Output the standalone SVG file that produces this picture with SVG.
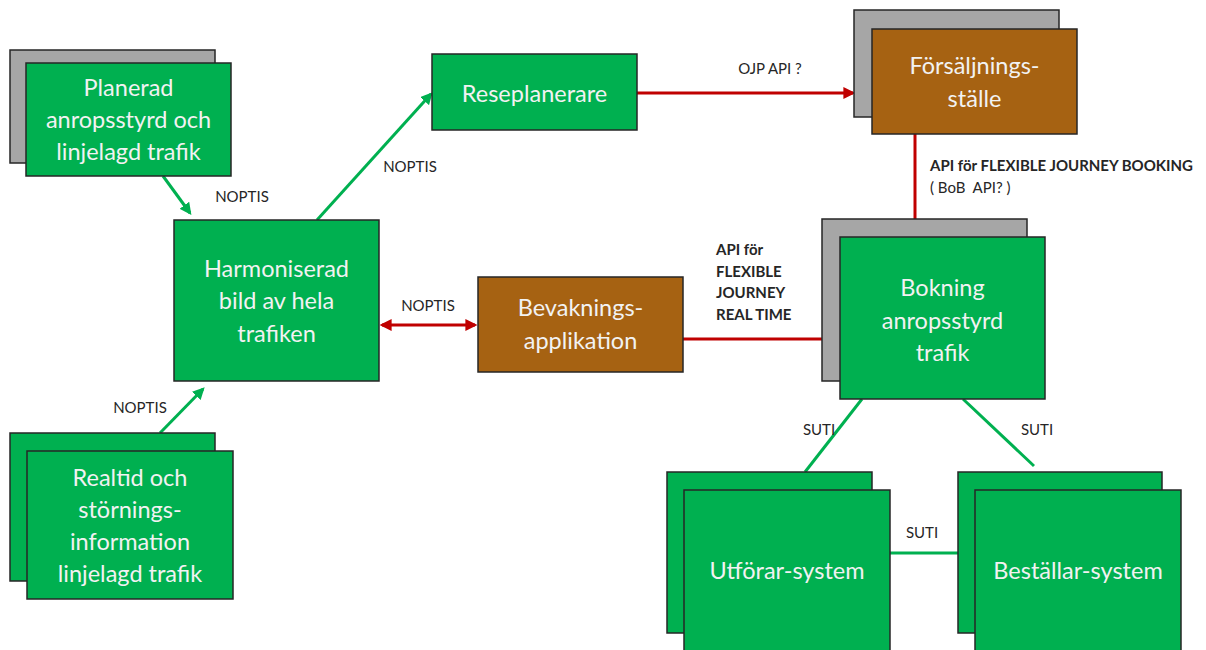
<svg xmlns="http://www.w3.org/2000/svg" width="1206" height="650" viewBox="0 0 1206 650">
  <defs>
    <marker id="ah-green" viewBox="0 0 10 10" refX="8" refY="5" markerWidth="4" markerHeight="4" orient="auto-start-reverse">
      <path d="M0,0 L10,5 L0,10 z" fill="#00B050"/>
    </marker>
    <marker id="ah-red" viewBox="0 0 10 10" refX="8" refY="5" markerWidth="4" markerHeight="4" orient="auto-start-reverse">
      <path d="M0,0 L10,5 L0,10 z" fill="#C00000"/>
    </marker>
    <style>
      .box { stroke: #262626; stroke-width: 1.5; }
      .green { fill: #00B050; }
      .brown { fill: #A66212; }
      .grey { fill: #A6A6A6; }
      .t { font-family: Lato, "Open Sans", "Liberation Sans", sans-serif; font-size: 23.5px; fill: #F2F2F2; text-anchor: middle; dominant-baseline: central; }
      .lbl { font-family: Lato, "Open Sans", "Liberation Sans", sans-serif; font-size: 15px; fill: #262626; dominant-baseline: central; }
      .mid { text-anchor: middle; }
      .b { font-weight: bold; }
      .g { stroke: #00B050; stroke-width: 3; fill: none; }
      .r { stroke: #C00000; stroke-width: 3; fill: none; }
    </style>
  </defs>

  <!-- connectors -->
  <g id="connectors">
    <line class="g" x1="163" y1="176" x2="190" y2="213" marker-end="url(#ah-green)"/>
    <line class="g" x1="317" y1="220" x2="431" y2="94" marker-end="url(#ah-green)"/>
    <line class="g" x1="160" y1="433" x2="203" y2="389" marker-end="url(#ah-green)"/>
    <line class="r" x1="382" y1="325" x2="475" y2="325" marker-start="url(#ah-red)" marker-end="url(#ah-red)"/>
    <line class="r" x1="637" y1="93" x2="853" y2="93" marker-end="url(#ah-red)"/>
    <line class="r" x1="915" y1="134" x2="915" y2="219"/>
    <line class="r" x1="683" y1="339" x2="822" y2="339"/>
    <line class="g" x1="862" y1="399" x2="805" y2="472"/>
    <line class="g" x1="963" y1="399" x2="1034" y2="466"/>
    <line class="g" x1="890" y1="553" x2="958" y2="553"/>

    <text class="lbl mid" x="242" y="196">NOPTIS</text>
    <text class="lbl mid" x="410" y="166">NOPTIS</text>
    <text class="lbl mid" x="428" y="305">NOPTIS</text>
    <text class="lbl mid" x="140" y="407">NOPTIS</text>
    <text class="lbl mid" x="770" y="68">OJP API ?</text>
    <text class="lbl b" x="930" y="165">API för FLEXIBLE JOURNEY BOOKING</text>
    <text class="lbl" x="930" y="187">( BoB&#160; API? )</text>
    <text class="lbl b" x="716" y="249">API för</text>
    <text class="lbl b" x="716" y="271">FLEXIBLE</text>
    <text class="lbl b" x="716" y="292">JOURNEY</text>
    <text class="lbl b" x="716" y="314">REAL TIME</text>
    <text class="lbl mid" x="819" y="429">SUTI</text>
    <text class="lbl mid" x="1037" y="429">SUTI</text>
    <text class="lbl mid" x="922" y="532">SUTI</text>
  </g>

  <!-- nodes -->
  <g id="planerad">
    <rect class="box grey" x="10" y="50" width="205" height="113"/>
    <rect class="box green" x="26" y="63" width="205" height="113"/>
    <text class="t" x="128.5" y="87">Planerad</text>
    <text class="t" x="128.5" y="119">anropsstyrd och</text>
    <text class="t" x="128.5" y="151">linjelagd trafik</text>
  </g>

  <g id="harmoniserad">
    <rect class="box green" x="174" y="220" width="205" height="161"/>
    <text class="t" x="276.5" y="268">Harmoniserad</text>
    <text class="t" x="276.5" y="300">bild av hela</text>
    <text class="t" x="276.5" y="333">trafiken</text>
  </g>

  <g id="realtid">
    <rect class="box green" x="10" y="433" width="205" height="148"/>
    <rect class="box green" x="27" y="451" width="206" height="148"/>
    <text class="t" x="130" y="477">Realtid och</text>
    <text class="t" x="130" y="509">störnings-</text>
    <text class="t" x="130" y="541">information</text>
    <text class="t" x="130" y="573">linjelagd trafik</text>
  </g>

  <g id="reseplanerare">
    <rect class="box green" x="432" y="54" width="205" height="76"/>
    <text class="t" x="534.5" y="93">Reseplanerare</text>
  </g>

  <g id="forsaljningsstalle">
    <rect class="box grey" x="854" y="10" width="205" height="107"/>
    <rect class="box brown" x="872" y="29" width="205" height="105"/>
    <text class="t" x="974.5" y="65">Försäljnings-</text>
    <text class="t" x="974.5" y="98">ställe</text>
  </g>

  <g id="bevakningsapplikation">
    <rect class="box brown" x="478" y="277" width="205" height="95"/>
    <text class="t" x="580.5" y="307">Bevaknings-</text>
    <text class="t" x="580.5" y="340">applikation</text>
  </g>

  <g id="bokning">
    <rect class="box grey" x="822" y="219" width="205" height="162"/>
    <rect class="box green" x="840" y="237" width="205" height="162"/>
    <text class="t" x="942.5" y="287">Bokning</text>
    <text class="t" x="942.5" y="320">anropsstyrd</text>
    <text class="t" x="942.5" y="352">trafik</text>
  </g>

  <g id="utforarsystem">
    <rect class="box green" x="667" y="472" width="205" height="161"/>
    <rect class="box green" x="684" y="490" width="206" height="170"/>
    <text class="t" x="787" y="570">Utförar-system</text>
  </g>

  <g id="bestallarsystem">
    <rect class="box green" x="958" y="472" width="204" height="161"/>
    <rect class="box green" x="975" y="490" width="206" height="170"/>
    <text class="t" x="1078" y="570">Beställar-system</text>
  </g>
</svg>
